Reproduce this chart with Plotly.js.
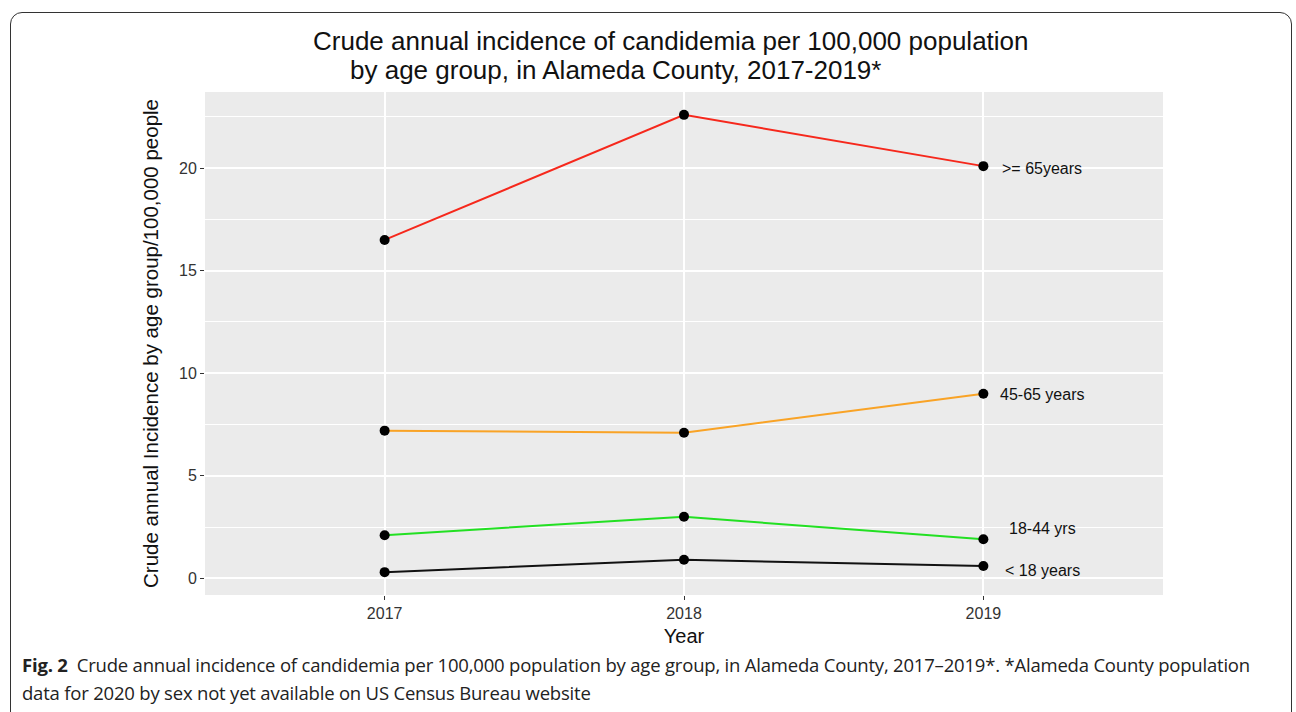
<!DOCTYPE html>
<html>
<head>
<meta charset="utf-8">
<script src="https://cdn.plot.ly/plotly-3.0.1.min.js"></script>
<style>
  html, body { margin: 0; padding: 0; background: #fff; }
  #wrap { position: relative; width: 1296px; height: 712px; overflow: hidden; }
  #frame { position: absolute; left: 10px; top: 12px; width: 1282px; height: 720px;
           border: 1.3px solid #333; border-radius: 12px; box-sizing: border-box; }
  #chart { position: absolute; left: 0; top: 0; width: 1296px; height: 712px; }
  #caption { position: absolute; left: 22px; top: 651px; width: 1270px; white-space: nowrap;
             font-family: "Open Sans", "Noto Sans", sans-serif; font-size: 18.5px;
             line-height: 28px; color: #222; letter-spacing: -0.2px; }
  #caption b { font-weight: 700; margin-right: 9px; }
</style>
</head>
<body>
<div id="wrap">
  <div id="frame"></div>
  <div id="chart"></div>
  <div id="caption"><b>Fig. 2</b>Crude annual incidence of candidemia per 100,000 population by age group, in Alameda County, 2017–2019*. *Alameda County population<br>data for 2020 by sex not yet available on US Census Bureau website</div>
</div>
<script>
const years = ["2017", "2018", "2019"];
const groups = [">= 65years", "45-65 years", "18-44 yrs", "< 18 years"];
const over65 = [16.5, 22.6, 20.1];
const age45to65 = [7.2, 7.1, 9.0];
const age18to44 = [2.1, 3.0, 1.9];
const under18 = [0.3, 0.9, 0.6];
const labelY = [20.0, 8.95, 2.45, 0.4];
const colors = ["#F6281C", "#F9A326", "#22E022", "#111111"];

const series = [over65, age45to65, age18to44, under18];
const traces = series.map((vals, i) => ({
  type: "scatter",
  mode: "lines+markers",
  x: years,
  y: vals,
  line: { color: colors[i], width: 2 },
  marker: { color: "#000", size: 10 },
  showlegend: false,
  hoverinfo: "x+y"
}));

const lastIdx = years.length - 1;
const annotations = groups.map((g, i) => ({
  x: lastIdx, y: labelY[i], xref: "x", yref: "y",
  text: g, showarrow: false, xanchor: "center",
  xshift: 59,
  font: { family: "Liberation Sans, Arial, sans-serif", size: 16, color: "#111" }
}));

annotations.push({
  xref: "paper", yref: "paper", x: 0.486, y: 1, yshift: 51,
  xanchor: "center", yanchor: "middle", showarrow: false,
  text: "Crude annual incidence of candidemia per 100,000 population",
  font: { family: "Liberation Sans, Arial, sans-serif", size: 26, color: "#111" }
});
annotations.push({
  xref: "paper", yref: "paper", x: 0.149, y: 1, yshift: 22,
  xanchor: "left", yanchor: "middle", showarrow: false,
  text: "by age group, in Alameda County, 2017-2019*",
  font: { family: "Liberation Sans, Arial, sans-serif", size: 26, color: "#111" }
});

const layout = {
  width: 1296, height: 712,
  margin: { l: 205, r: 133, t: 92, b: 117 },
  paper_bgcolor: "rgba(0,0,0,0)",
  plot_bgcolor: "#EBEBEB",
  font: { family: "Liberation Sans, Arial, sans-serif" },
  xaxis: {
    type: "category",
    range: [-0.6, 2.6],
    showgrid: true, gridcolor: "#FFFFFF", gridwidth: 2,
    zeroline: false, showline: false,
    ticks: "outside", ticklen: 4, tickcolor: "#333", tickwidth: 1,
    tickfont: { family: "Liberation Sans, Arial, sans-serif", size: 16, color: "#333" },
    title: { text: "Year", font: { size: 20, color: "#111" }, standoff: 7 }
  },
  yaxis: {
    range: [-0.815, 23.715],
    tickvals: [0, 5, 10, 15, 20],
    showgrid: true, gridcolor: "#FFFFFF", gridwidth: 2,
    minor: { tickvals: [2.5, 7.5, 12.5, 17.5, 22.5], showgrid: true, gridcolor: "#FFFFFF", gridwidth: 1 },
    zeroline: false, showline: false,
    ticks: "outside", ticklen: 4, tickcolor: "#333", tickwidth: 1,
    tickfont: { family: "Liberation Sans, Arial, sans-serif", size: 16, color: "#333" },
    title: { text: "Crude annual Incidence by age group/100,000 people", font: { size: 20.5, color: "#111" }, standoff: 14 }
  },
  annotations: annotations
};

Plotly.newPlot("chart", traces, layout, { displayModeBar: false, staticPlot: true });
</script>
</body>
</html>
